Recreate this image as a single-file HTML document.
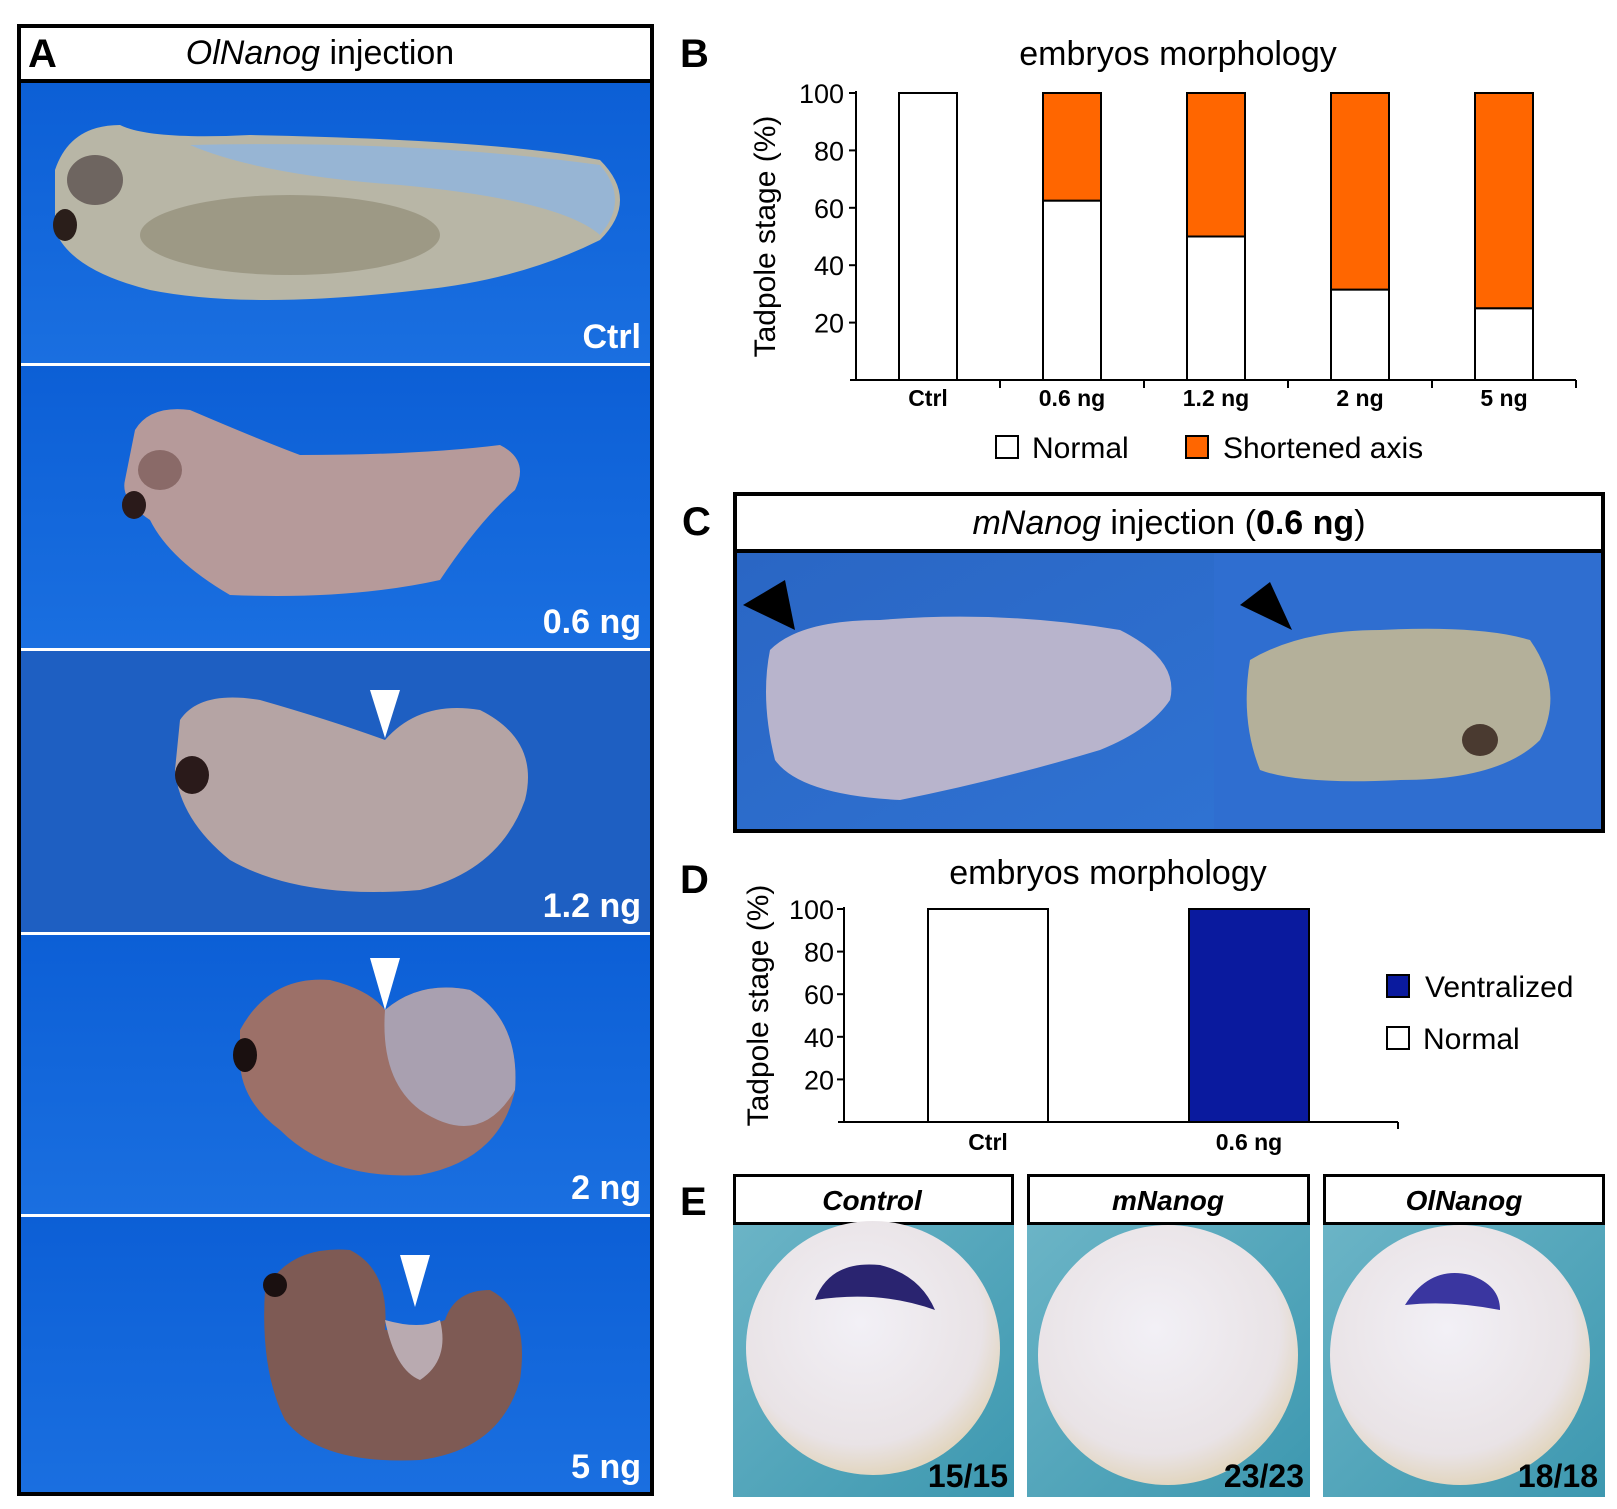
<!DOCTYPE html>
<html><head><meta charset="utf-8"><style>
html,body{margin:0;padding:0;background:#fff}
svg{display:block}
text{font-family:"Liberation Sans",sans-serif}
</style></head><body>
<svg id="fig" width="1617" height="1509" viewBox="0 0 1617 1509">
<defs>
<linearGradient id="bl" x1="0" y1="0" x2="0" y2="1"><stop offset="0" stop-color="#0c5fd6"/><stop offset="1" stop-color="#1a6fe0"/></linearGradient>
<linearGradient id="bl2" x1="0" y1="0" x2="1" y2="1"><stop offset="0" stop-color="#2a66c4"/><stop offset="1" stop-color="#2f72d2"/></linearGradient>
<radialGradient id="egg" cx="0.45" cy="0.4" r="0.6"><stop offset="0" stop-color="#f2f0f6"/><stop offset="0.8" stop-color="#e9e3e6"/><stop offset="1" stop-color="#e2d6c0"/></radialGradient>
<linearGradient id="teal" x1="0" y1="0" x2="1" y2="1"><stop offset="0" stop-color="#6bb4c6"/><stop offset="1" stop-color="#3d98b0"/></linearGradient>
</defs>

<!-- Panel A -->
<g>
<rect x="17" y="24" width="637" height="1472" fill="#000"/>
<rect x="21" y="28" width="629" height="51" fill="#fff"/>
<text x="28" y="67" font-size="40" font-weight="bold">A</text>
<text x="320" y="64" font-size="34" text-anchor="middle"><tspan font-style="italic">OlNanog</tspan> injection</text>
<g>
<rect x="21" y="83" width="629" height="280" fill="url(#bl)"/>
<path d="M55 170 Q70 125 120 125 Q150 140 250 135 Q500 140 600 160 Q640 200 600 240 Q520 280 420 290 Q250 310 150 290 Q70 270 55 230 Z" fill="#b8b6a6"/>
<path d="M190 145 Q420 140 600 165 Q630 200 600 235 Q560 200 400 185 Q260 175 190 145Z" fill="#8fb5e0" opacity="0.8"/>
<ellipse cx="95" cy="180" rx="28" ry="25" fill="#6e6560"/>
<ellipse cx="65" cy="225" rx="12" ry="16" fill="#2a1e1a"/>
<ellipse cx="290" cy="235" rx="150" ry="40" fill="#8a8670" opacity="0.6"/>
<text x="641" y="348" font-size="34" font-weight="bold" fill="#fff" text-anchor="end">Ctrl</text>
</g>
<rect x="21" y="363" width="629" height="3" fill="#fff"/>
<g>
<rect x="21" y="366" width="629" height="282" fill="url(#bl)"/>
<path d="M135 430 Q150 405 190 410 Q260 440 300 455 Q420 455 500 445 Q530 460 515 490 Q480 520 440 580 Q350 600 230 595 Q170 560 150 520 Q120 500 125 480 Z" fill="#b69a9a"/>
<ellipse cx="160" cy="470" rx="22" ry="20" fill="#8a6a68"/>
<ellipse cx="134" cy="505" rx="12" ry="14" fill="#2a1a1a"/>
<text x="641" y="633" font-size="34" font-weight="bold" fill="#fff" text-anchor="end">0.6 ng</text>
</g>
<rect x="21" y="648" width="629" height="3" fill="#fff"/>
<g>
<rect x="21" y="651" width="629" height="281" fill="#1e5fc2"/>
<path d="M180 720 Q200 690 260 700 Q330 720 385 740 Q420 700 480 710 Q540 740 525 800 Q500 870 420 890 Q300 900 230 860 Q180 820 175 770 Z" fill="#b5a4a4"/>
<ellipse cx="192" cy="775" rx="17" ry="19" fill="#2a1a1a"/>
<polygon points="370,690 400,690 385,738" fill="#fff"/>
<text x="641" y="917" font-size="34" font-weight="bold" fill="#fff" text-anchor="end">1.2 ng</text>
</g>
<rect x="21" y="932" width="629" height="3" fill="#fff"/>
<g>
<rect x="21" y="935" width="629" height="279" fill="url(#bl)"/>
<path d="M240 1030 Q270 975 330 980 Q370 990 385 1010 Q420 980 470 990 Q520 1020 515 1090 Q500 1160 420 1175 Q330 1180 280 1130 Q240 1100 240 1060 Z" fill="#9c7068"/>
<path d="M385 1010 Q420 980 470 990 Q520 1020 515 1090 Q480 1150 420 1110 Q380 1080 385 1010Z" fill="#a9a0b0"/>
<ellipse cx="245" cy="1055" rx="12" ry="17" fill="#1a1010"/>
<polygon points="370,958 400,958 385,1010" fill="#fff"/>
<text x="641" y="1199" font-size="34" font-weight="bold" fill="#fff" text-anchor="end">2 ng</text>
</g>
<rect x="21" y="1214" width="629" height="3" fill="#fff"/>
<g>
<rect x="21" y="1217" width="629" height="275" fill="url(#bl)"/>
<path d="M265 1290 Q290 1245 350 1250 Q390 1270 385 1330 Q420 1330 445 1320 Q455 1290 490 1290 Q530 1310 520 1380 Q500 1450 420 1460 Q320 1465 285 1420 Q260 1370 265 1290 Z" fill="#7e5a54"/>
<path d="M385 1320 Q420 1330 440 1320 Q450 1360 420 1380 Q395 1370 385 1320Z" fill="#b9aab0"/>
<ellipse cx="275" cy="1285" rx="12" ry="12" fill="#1a1010"/>
<polygon points="400,1255 430,1255 415,1307" fill="#fff"/>
<text x="641" y="1478" font-size="34" font-weight="bold" fill="#fff" text-anchor="end">5 ng</text>
</g>
</g>

<!-- Panel B -->
<text x="680" y="67" font-size="40" font-weight="bold">B</text>
<g id="chartB"></g>

<!-- Panel C -->
<text x="682" y="535" font-size="40" font-weight="bold">C</text>
<g>
<rect x="733" y="492" width="872" height="341" fill="#000"/>
<rect x="737" y="496" width="864" height="53" fill="#fff"/>
<text x="1169" y="534" font-size="34" text-anchor="middle"><tspan font-style="italic">mNanog</tspan> injection (<tspan font-weight="bold">0.6 ng</tspan>)</text>
<rect x="737" y="553" width="477" height="276" fill="url(#bl2)"/>
<rect x="1214" y="553" width="387" height="276" fill="#2f6ed0"/>
<path d="M770 650 Q800 620 880 620 Q1000 610 1120 630 Q1180 660 1170 700 Q1150 730 1100 750 Q1000 780 900 800 Q800 795 775 760 Q760 700 770 650Z" fill="#b8b4cc"/>
<path d="M1250 660 Q1300 630 1380 630 Q1480 625 1530 640 Q1565 690 1540 740 Q1500 780 1400 780 Q1300 785 1260 770 Q1240 720 1250 660Z" fill="#b4b09a"/>
<ellipse cx="1480" cy="740" rx="18" ry="16" fill="#4a3a30"/>
<polygon points="743,605 785,580 795,630" fill="#000"/>
<polygon points="1240,605 1270,582 1292,630" fill="#000"/>
</g>

<!-- Panel D -->
<text x="680" y="893" font-size="40" font-weight="bold">D</text>
<g id="chartD"></g>

<!-- Panel E -->
<text x="680" y="1215" font-size="40" font-weight="bold">E</text>
<g>
<g>
<rect x="733" y="1174" width="281" height="323" fill="#000"/>
<rect x="736" y="1177" width="275" height="45" fill="#fff"/>
<text x="872" y="1210" font-size="28" font-weight="bold" font-style="italic" text-anchor="middle">Control</text>
<rect x="733" y="1225" width="281" height="272" fill="url(#teal)"/>
<circle cx="873" cy="1348" r="127" fill="url(#egg)"/>
<path d="M815 1300 Q830 1260 880 1265 Q920 1275 935 1310 Q880 1290 815 1300Z" fill="#2a2470"/>
<text x="1008" y="1487" font-size="32" font-weight="bold" text-anchor="end">15/15</text>
</g>
<g>
<rect x="1027" y="1174" width="283" height="323" fill="#000"/>
<rect x="1030" y="1177" width="277" height="45" fill="#fff"/>
<text x="1168" y="1210" font-size="28" font-weight="bold" font-style="italic" text-anchor="middle">mNanog</text>
<rect x="1027" y="1225" width="283" height="272" fill="url(#teal)"/>
<circle cx="1168" cy="1355" r="130" fill="url(#egg)"/>
<text x="1304" y="1487" font-size="32" font-weight="bold" text-anchor="end">23/23</text>
</g>
<g>
<rect x="1323" y="1174" width="282" height="323" fill="#000"/>
<rect x="1326" y="1177" width="276" height="45" fill="#fff"/>
<text x="1464" y="1210" font-size="28" font-weight="bold" font-style="italic" text-anchor="middle">OlNanog</text>
<rect x="1323" y="1225" width="282" height="272" fill="url(#teal)"/>
<circle cx="1460" cy="1355" r="130" fill="url(#egg)"/>
<path d="M1405 1305 Q1430 1265 1470 1275 Q1500 1285 1500 1310 Q1450 1300 1405 1305Z" fill="#3a36a0"/>
<text x="1598" y="1487" font-size="32" font-weight="bold" text-anchor="end">18/18</text>
</g>
</g>
</svg>
<script>
// Chart B data
const catsB = ["Ctrl","0.6 ng","1.2 ng","2 ng","5 ng"];
const normalB = [100, 62.5, 50, 31.5, 25];
const shortB = [0, 37.5, 50, 68.5, 75];
const ticksB = [20, 40, 60, 80, 100];
// Chart D data
const catsD = ["Ctrl","0.6 ng"];
const normalD = [100, 0];
const ventD = [0, 100];
const ticksD = [20, 40, 60, 80, 100];

const NS = "http://www.w3.org/2000/svg";
function mk(parent, tag, attrs, txt){const e=document.createElementNS(NS,tag);for(const k in attrs)e.setAttribute(k,attrs[k]);if(txt!==undefined)e.textContent=txt;parent.appendChild(e);return e;}

// ---- Chart B ----
(function(){
const g=document.getElementById('chartB');
const x0=856,x1=1576,yTop=93,yBot=380;
const y=v=>yBot-(v/100)*(yBot-yTop);
const band=(x1-x0)/catsB.length, bw=58;
const t=mk(g,'text',{x:1178,y:65,'font-size':34,'text-anchor':'middle'},'embryos morphology');


mk(g,'line',{x1:x0,y1:yTop-2,x2:x0,y2:yBot,stroke:'#000','stroke-width':2});
mk(g,'line',{x1:x0-6,y1:yBot,x2:x1,y2:yBot,stroke:'#000','stroke-width':2});
ticksB.forEach(v=>{
 mk(g,'line',{x1:x0-7,y1:y(v),x2:x0,y2:y(v),stroke:'#000','stroke-width':2});
 const tl=mk(g,'text',{x:x0-12,y:y(v)+10,'font-size':27,'text-anchor':'end'},String(v));
 
 
});
const yt=mk(g,'text',{transform:`translate(775,${(yTop+yBot)/2}) rotate(-90)`,'font-size':30,'text-anchor':'middle'},'Tadpole stage (%)');


catsB.forEach((c,i)=>{
 const cx=x0+band*(i+0.5);
 mk(g,'line',{x1:x0+band*(i+1),y1:yBot,x2:x0+band*(i+1),y2:yBot+8,stroke:'#000','stroke-width':2});
 const r1=mk(g,'rect',{x:cx-bw/2,y:y(normalB[i]),width:bw,height:yBot-y(normalB[i]),fill:'#fff',stroke:'#000','stroke-width':2});
 
 
 if(shortB[i]>0){
  const top=normalB[i]+shortB[i];
  const r2=mk(g,'rect',{x:cx-bw/2,y:y(top),width:bw,height:y(normalB[i])-y(top),fill:'#ff6600',stroke:'#000','stroke-width':2});
  
  
 }
 const cl=mk(g,'text',{x:cx,y:406,'font-size':23,'font-weight':'bold','text-anchor':'middle'},c);
 
 
});
const l1=mk(g,'rect',{x:996,y:436,width:22,height:22,fill:'#fff',stroke:'#000','stroke-width':2});


const lt1=mk(g,'text',{x:1032,y:458,'font-size':30},'Normal');


const l2=mk(g,'rect',{x:1186,y:436,width:22,height:22,fill:'#ff6600',stroke:'#000','stroke-width':2});


const lt2=mk(g,'text',{x:1223,y:458,'font-size':30},'Shortened axis');


})();

// ---- Chart D ----
(function(){
const g=document.getElementById('chartD');
const x0=844,x1=1398,yTop=909,yBot=1122;
const y=v=>yBot-(v/100)*(yBot-yTop);
const centers=[988,1249], bw=120;
const t=mk(g,'text',{x:1108,y:884,'font-size':34,'text-anchor':'middle'},'embryos morphology');


mk(g,'line',{x1:x0,y1:yTop-2,x2:x0,y2:yBot,stroke:'#000','stroke-width':2});
mk(g,'line',{x1:x0-6,y1:yBot,x2:x1,y2:yBot,stroke:'#000','stroke-width':2});
mk(g,'line',{x1:x1,y1:yBot,x2:x1,y2:yBot+7,stroke:'#000','stroke-width':2});
ticksD.forEach(v=>{
 mk(g,'line',{x1:x0-7,y1:y(v),x2:x0,y2:y(v),stroke:'#000','stroke-width':2});
 const tl=mk(g,'text',{x:x0-10,y:y(v)+10,'font-size':27,'text-anchor':'end'},String(v));
 
 
});
const yt=mk(g,'text',{transform:`translate(768,${(yTop+yBot)/2-10}) rotate(-90)`,'font-size':30,'text-anchor':'middle'},'Tadpole stage (%)');


catsD.forEach((c,i)=>{
 const cx=centers[i];
 if(normalD[i]>0){
  const r=mk(g,'rect',{x:cx-bw/2,y:y(normalD[i]),width:bw,height:yBot-y(normalD[i]),fill:'#fff',stroke:'#000','stroke-width':2});
  
  
 }
 if(ventD[i]>0){
  const top=normalD[i]+ventD[i];
  const r=mk(g,'rect',{x:cx-bw/2,y:y(top),width:bw,height:y(normalD[i])-y(top),fill:'#0a1a9e',stroke:'#000','stroke-width':2});
  
  
 }
 const cl=mk(g,'text',{x:cx,y:1150,'font-size':23,'font-weight':'bold','text-anchor':'middle'},c);
 
 
});
const l1=mk(g,'rect',{x:1387,y:975,width:22,height:22,fill:'#0a1a9e',stroke:'#000','stroke-width':2});


const lt1=mk(g,'text',{x:1425,y:997,'font-size':30},'Ventralized');


const l2=mk(g,'rect',{x:1387,y:1027,width:22,height:22,fill:'#fff',stroke:'#000','stroke-width':2});


const lt2=mk(g,'text',{x:1423,y:1049,'font-size':30},'Normal');


})();
</script>
</body></html>
